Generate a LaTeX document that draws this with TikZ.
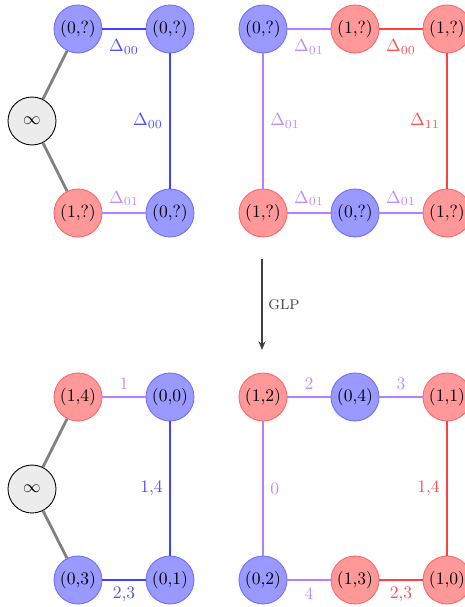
\documentclass[tikz,border=0pt]{standalone}
\usetikzlibrary{arrows.meta}
\definecolor{nbfill}{RGB}{153,153,255}
\definecolor{nbdraw}{RGB}{110,110,255}
\definecolor{nrfill}{RGB}{255,153,153}
\definecolor{nrdraw}{RGB}{255,100,100}
\definecolor{eblue}{RGB}{64,64,255}
\definecolor{ered}{RGB}{255,64,64}
\definecolor{epurp}{RGB}{180,128,255}
\definecolor{lblue}{RGB}{80,80,255}
\definecolor{lred}{RGB}{255,80,80}
\definecolor{lpurp}{RGB}{190,140,255}
\tikzset{
  vtx/.style={circle, minimum size=0.96cm, inner sep=0pt, line width=0.5pt},
  bv/.style={vtx, fill=nbfill, draw=nbdraw},
  rv/.style={vtx, fill=nrfill, draw=nrdraw},
  iv/.style={vtx, fill=gray!15, draw=black},
  eb/.style={draw=eblue, line width=1.6pt},
  er/.style={draw=ered, line width=1.6pt},
  ep/.style={draw=epurp, line width=1.6pt},
  eg/.style={draw=gray, line width=1.6pt},
  lb/.style={text=lblue},
  lr/.style={text=lred},
  lp/.style={text=lpurp},
}
\begin{document}
\begin{tikzpicture}[x=0.02cm, y=-0.02cm]
\useasboundingbox (0,0) rectangle (465,607);
% ---- upper diagram ----
\node[iv] (ui) at (32,121) {$\infty$};
\node[bv] (ua) at (78,29) {(0,?)};
\node[bv] (ub) at (170,29) {(0,?)};
\node[rv] (uc) at (78,213) {(1,?)};
\node[bv] (ud) at (170,213) {(0,?)};
\draw[eg] (ui) -- (ua);
\draw[eg] (ui) -- (uc);
\draw[eb] (ua) -- node[below=2pt, lb] {$\Delta_{00}$} (ub);
\draw[eb] (ub) -- node[left, lb] {$\Delta_{00}$} (ud);
\draw[ep] (uc) -- node[above, lp] {$\Delta_{01}$} (ud);

\node[bv] (ue) at (263,29) {(0,?)};
\node[rv] (uf) at (355,29) {(1,?)};
\node[rv] (ug) at (447,29) {(1,?)};
\node[rv] (uh) at (263,213) {(1,?)};
\node[bv] (uj) at (355,213) {(0,?)};
\node[rv] (uk) at (447,213) {(1,?)};
\draw[ep] (ue) -- node[below=2pt, lp] {$\Delta_{01}$} (uf);
\draw[er] (uf) -- node[below=2pt, lr] {$\Delta_{00}$} (ug);
\draw[ep] (ue) -- node[right, lp] {$\Delta_{01}$} (uh);
\draw[er] (ug) -- node[left, lr] {$\Delta_{11}$} (uk);
\draw[ep] (uh) -- node[above, lp] {$\Delta_{01}$} (uj);
\draw[ep] (uj) -- node[above, lp] {$\Delta_{01}$} (uk);

% ---- arrow ----
\coordinate (as) at (262,259);
\coordinate (ae) at (262,350);
\draw[draw=black!75, line width=0.6pt, -{Stealth[length=5pt, width=4pt]}] (as) -- node[right, text=black!75] {\footnotesize GLP} (ae);

% ---- lower diagram ----
\node[iv] (li) at (32,489) {$\infty$};
\node[rv] (la) at (78,397) {(1,4)};
\node[bv] (lb) at (170,397) {(0,0)};
\node[bv] (lc) at (78,580) {(0,3)};
\node[bv] (ld) at (170,580) {(0,1)};
\draw[eg] (li) -- (la);
\draw[eg] (li) -- (lc);
\draw[ep] (la) -- node[above, lp] {1} (lb);
\draw[eb] (lb) -- node[left, lb] {1,4} (ld);
\draw[eb] (lc) -- node[below, lb] {2,3} (ld);

\node[rv] (le) at (263,397) {(1,2)};
\node[bv] (lf) at (355,397) {(0,4)};
\node[rv] (lg) at (447,397) {(1,1)};
\node[bv] (lh) at (263,580) {(0,2)};
\node[rv] (lj) at (355,580) {(1,3)};
\node[rv] (lk) at (447,580) {(1,0)};
\draw[ep] (le) -- node[above, lp] {2} (lf);
\draw[ep] (lf) -- node[above, lp] {3} (lg);
\draw[ep] (le) -- node[right, lp] {0} (lh);
\draw[er] (lg) -- node[left, lr] {1,4} (lk);
\draw[ep] (lh) -- node[below, lp] {4} (lj);
\draw[er] (lj) -- node[below, lr] {2,3} (lk);
\end{tikzpicture}
\end{document}
